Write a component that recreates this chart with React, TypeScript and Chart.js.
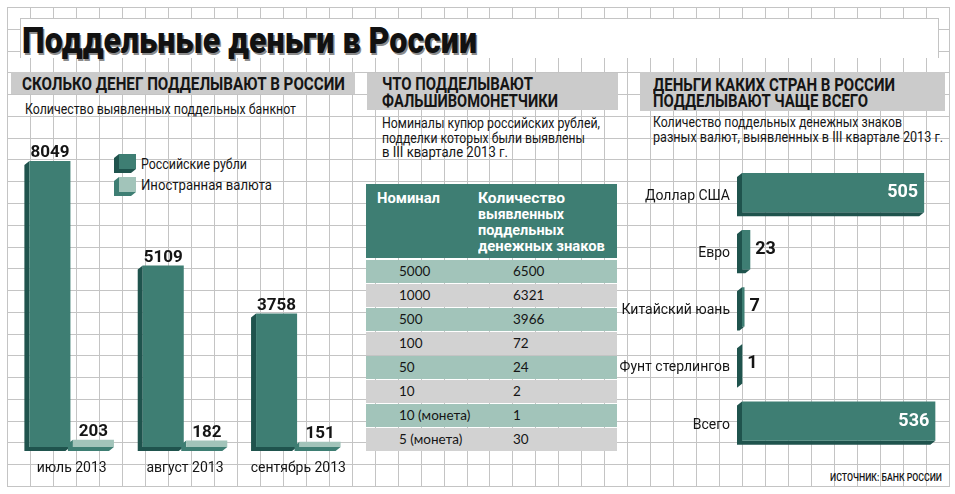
import React, { useEffect, useLayoutEffect, useRef } from 'react';
import { Chart, registerables } from 'chart.js';

Chart.register(...registerables);

// ---------- data ----------
const months = ['июль 2013', 'август 2013', 'сентябрь 2013'];
const rubleCounts = [8049, 5109, 3758];
const foreignCounts = [203, 182, 151];
const seriesNames = ['Российские рубли', 'Иностранная валюта'];

const denominations = ['5000', '1000', '500', '100', '50', '10', '10 (монета)', '5 (монета)'];
const denominationCounts = [6500, 6321, 3966, 72, 24, 2, 1, 30];

const currencies = ['Доллар США', 'Евро', 'Китайский юань', 'Фунт стерлингов', 'Всего'];
const currencyCounts = [505, 23, 7, 1, 536];

// ---------- style ----------
const TEAL = '#3e7e73';
const TEAL_DARK = '#1f534d';
const TEAL_LIGHT = '#a2c4ba';
const ROW_GREY = '#d2d2d2';
const HEAD_GREY = '#cbcbcb';
const GRID = '#c4c4c4';
const INK = '#151515';
const FONT = 'Roboto, "Noto Sans", sans-serif';

const depthPlugin = {
  id: 'depth3d',
  beforeDatasetsDraw(chart: any) {
    const ctx = chart.ctx;
    const dx = 5;
    const dy = 4;
    chart.data.datasets.forEach((ds: any, di: number) => {
      const meta = chart.getDatasetMeta(di);
      meta.data.forEach((bar: any) => {
        let left: number, right: number, top: number, bottom: number;
        if (bar.horizontal) {
          left = Math.min(bar.base, bar.x);
          right = Math.max(bar.base, bar.x);
          top = bar.y - bar.height / 2;
          bottom = bar.y + bar.height / 2;
        } else {
          left = bar.x - bar.width / 2;
          right = bar.x + bar.width / 2;
          top = Math.min(bar.y, bar.base);
          bottom = Math.max(bar.y, bar.base);
        }
        ctx.save();
        ctx.fillStyle = ds.sideColor;
        ctx.beginPath();
        ctx.moveTo(left, top);
        ctx.lineTo(left - dx, top + dy);
        ctx.lineTo(left - dx, bottom + dy);
        ctx.lineTo(right - dx, bottom + dy);
        ctx.lineTo(right, bottom);
        ctx.lineTo(left, bottom);
        ctx.closePath();
        ctx.fill();
        ctx.restore();
      });
    });
  },
};

const valueLabels = {
  id: 'valueLabels',
  afterDatasetsDraw(chart: any) {
    const ctx = chart.ctx;
    const horizontal = chart.options.indexAxis === 'y';
    chart.data.datasets.forEach((ds: any, di: number) => {
      const meta = chart.getDatasetMeta(di);
      meta.data.forEach((bar: any, i: number) => {
        const v = ds.data[i];
        ctx.save();
        ctx.font = `bold ${horizontal ? 18 : 17}px ${FONT}`;
        if (horizontal) {
          ctx.textBaseline = 'middle';
          if (v > 100) {
            ctx.fillStyle = '#ffffff';
            ctx.textAlign = 'right';
            ctx.fillText(String(v), bar.x - 6, bar.y);
          } else {
            ctx.fillStyle = INK;
            ctx.textAlign = 'left';
            ctx.fillText(String(v), bar.x + 5, bar.y);
          }
        } else {
          ctx.fillStyle = INK;
          ctx.textAlign = 'center';
          ctx.textBaseline = 'alphabetic';
          ctx.fillText(String(v), bar.x, bar.y - 3.5);
        }
        ctx.restore();
      });
    });
  },
};

type TProps = {
  x: number;
  base: number;
  size: number;
  w?: number;
  weight?: number;
  color?: string;
  family?: string;
  shadow?: string;
  asc?: number;
  children: React.ReactNode;
};

function T({ x, base, size, w, weight = 400, color = INK, family = FONT, shadow, asc = 0.842, children }: TProps) {
  const ref = useRef<HTMLSpanElement>(null);
  useLayoutEffect(() => {
    const el = ref.current;
    if (!el || !w) return;
    const fit = () => {
      el.style.transform = 'none';
      const nat = el.getBoundingClientRect().width;
      if (nat > 0) el.style.transform = `scaleX(${w / nat})`;
    };
    fit();
    const fonts = (document as any).fonts;
    if (fonts && fonts.ready) fonts.ready.then(fit);
    const t = setTimeout(fit, 60);
    return () => clearTimeout(t);
  }, [w]);
  return (
    <span
      ref={ref}
      style={{
        position: 'absolute',
        left: x,
        top: base - asc * size,
        fontSize: size,
        lineHeight: `${size}px`,
        fontWeight: weight,
        color,
        fontFamily: family,
        whiteSpace: 'nowrap',
        transformOrigin: '0 0',
        textShadow: shadow,
      }}
    >
      {children}
    </span>
  );
}

function Cube({ x, y, w, h, front, side }: { x: number; y: number; w: number; h: number; front: string; side: string }) {
  const dx = 5;
  const dy = 4;
  return (
    <div style={{ position: 'absolute', left: x - dx, top: y, width: w + dx, height: h + dy }}>
      <div
        style={{
          position: 'absolute',
          inset: 0,
          background: side,
          clipPath: `polygon(${dx}px 0, 100% 0, 100% ${h}px, ${w}px 100%, 0 100%, 0 ${dy}px)`,
        }}
      />
      <div style={{ position: 'absolute', left: dx, top: 0, width: w, height: h, background: front }} />
    </div>
  );
}

function Box({ x, y, w, h, bg }: { x: number; y: number; w: number; h: number; bg: string }) {
  return <div style={{ position: 'absolute', left: x, top: y, width: w, height: h, background: bg }} />;
}

export default function App() {
  const leftRef = useRef<HTMLCanvasElement>(null);
  const rightRef = useRef<HTMLCanvasElement>(null);

  useEffect(() => {
    const c1 = new Chart(leftRef.current as HTMLCanvasElement, {
      type: 'bar',
      data: {
        labels: months,
        datasets: [
          {
            label: seriesNames[0],
            data: rubleCounts,
            backgroundColor: TEAL,
            sideColor: TEAL_DARK,
            categoryPercentage: 0.768,
            barPercentage: 0.943,
          } as any,
          {
            label: seriesNames[1],
            data: foreignCounts,
            backgroundColor: TEAL_LIGHT,
            sideColor: TEAL,
            categoryPercentage: 0.768,
            barPercentage: 0.943,
          } as any,
        ],
      },
      options: {
        responsive: false,
        maintainAspectRatio: false,
        animation: false,
        layout: { padding: { left: 7, right: 5, top: 20, bottom: 0 } },
        plugins: { legend: { display: false }, tooltip: { enabled: false } },
        scales: {
          x: {
            grid: { display: false, drawTicks: false },
            border: { display: false },
            ticks: { color: INK, font: { family: FONT, size: 14 }, padding: 13, maxRotation: 0 },
            afterFit: (s: any) => {
              s.height = 39;
            },
          },
          y: { display: false, min: 0, max: 9200 },
        },
      } as any,
      plugins: [depthPlugin, valueLabels],
    });

    const c2 = new Chart(rightRef.current as HTMLCanvasElement, {
      type: 'bar',
      data: {
        labels: currencies,
        datasets: [
          {
            label: 'Количество',
            data: currencyCounts,
            backgroundColor: TEAL,
            sideColor: TEAL_DARK,
            categoryPercentage: 1,
            barPercentage: 0.687,
          } as any,
        ],
      },
      options: {
        indexAxis: 'y',
        responsive: false,
        maintainAspectRatio: false,
        animation: false,
        layout: { padding: { left: 0, right: 6, top: 24, bottom: 15 } },
        plugins: { legend: { display: false }, tooltip: { enabled: false } },
        scales: {
          x: { display: false, min: 0, max: 560 },
          y: {
            grid: { display: false, drawTicks: false },
            border: { display: false },
            ticks: { color: INK, font: { family: FONT, size: 14 }, padding: 12, labelOffset: 4 },
            afterFit: (s: any) => {
              s.width = 122;
            },
          },
        },
      } as any,
      plugins: [depthPlugin, valueLabels],
    });

    return () => {
      c1.destroy();
      c2.destroy();
    };
  }, []);

  const rowTop = (i: number) => 260 + i * 24;

  return (
    <div
      style={{
        position: 'absolute',
        left: 0,
        top: 0,
        width: 955,
        height: 494,
        background: '#ffffff',
        overflow: 'hidden',
        fontFamily: FONT,
      }}
    >
      {/* background grid */}
      <div
        style={{
          position: 'absolute',
          left: 7,
          top: 7,
          width: 943,
          height: 480,
          backgroundImage: `repeating-linear-gradient(to right, ${GRID} 0px, ${GRID} 1px, transparent 1px, transparent 22.976px), repeating-linear-gradient(to bottom, ${GRID} 0px, ${GRID} 1px, transparent 1px, transparent 21.773px)`,
        }}
      />

      {/* title */}
      <div
        style={{
          position: 'absolute',
          left: 20,
          top: 18,
          width: 919,
          height: 40,
          background: '#fff',
          borderTop: `1px solid ${GRID}`,
          borderLeft: `1px solid ${GRID}`,
          borderRight: `1px solid ${GRID}`,
          boxSizing: 'border-box',
        }}
      />
      <T x={22} base={53} size={36} w={455} weight={900} color="#111" shadow="1.5px 1.5px 0 #8c8c8c">
        Поддельные деньги в России
      </T>

      {/* section header boxes */}
      <Box x={11} y={72} w={344} h={22} bg={HEAD_GREY} />
      <Box x={367} y={73} w={251} h={37} bg={HEAD_GREY} />
      <Box x={640} y={72} w={305} h={39} bg={HEAD_GREY} />

      {/* section 1 */}
      <T x={22} base={90} size={18} w={323} weight={700}>СКОЛЬКО ДЕНЕГ ПОДДЕЛЫВАЮТ В РОССИИ</T>
      <T x={25} base={114} size={14} w={271}>Количество выявленных поддельных банкнот</T>

      {/* section 2 */}
      <T x={382} base={90} size={18} w={151} weight={700}>ЧТО ПОДДЕЛЫВАЮТ</T>
      <T x={382} base={107} size={18} w={176} weight={700}>ФАЛЬШИВОМОНЕТЧИКИ</T>
      <T x={382} base={128} size={14} w={218}>Номиналы купюр российских рублей,</T>
      <T x={382} base={143} size={14} w={203}>подделки которых были выявлены</T>
      <T x={382} base={157} size={14} w={126}>в III квартале 2013 г.</T>

      {/* section 3 */}
      <T x={653} base={91} size={18} w={242} weight={700}>ДЕНЬГИ КАКИХ СТРАН В РОССИИ</T>
      <T x={653} base={107} size={18} w={215} weight={700}>ПОДДЕЛЫВАЮТ ЧАЩЕ ВСЕГО</T>
      <T x={653} base={127} size={14} w={249}>Количество поддельных денежных знаков</T>
      <T x={653} base={142} size={14} w={290}>разных валют, выявленных в III квартале 2013 г.</T>

      {/* left chart legend */}
      <Cube x={119} y={154} w={17} h={15} front={TEAL} side={TEAL_DARK} />
      <Cube x={119} y={177} w={17} h={15} front={TEAL_LIGHT} side={TEAL} />
      <T x={141} base={169} size={14} w={106}>{seriesNames[0]}</T>
      <T x={141} base={190} size={14} w={131}>{seriesNames[1]}</T>

      {/* table */}
      <Box x={366} y={184} w={251} h={74} bg={TEAL} />
      <T x={377} base={204} size={15} w={63} weight={700} color="#fff">Номинал</T>
      <T x={478} base={204} size={15} w={87} weight={700} color="#fff">Количество</T>
      <T x={478} base={220} size={15} w={86} weight={700} color="#fff">выявленных</T>
      <T x={478} base={236} size={15} w={86} weight={700} color="#fff">поддельных</T>
      <T x={478} base={252} size={15} w={127} weight={700} color="#fff">денежных знаков</T>
      {denominations.map((d, i) => (
        <div
          key={d}
          style={{
            position: 'absolute',
            left: 366,
            top: rowTop(i),
            width: 251,
            height: 23,
            background: i % 2 === 0 ? TEAL_LIGHT : ROW_GREY,
            fontFamily: 'Lato, "Noto Sans", sans-serif',
            fontSize: 13.5,
            lineHeight: '23px',
            color: INK,
          }}
        >
          <span style={{ position: 'absolute', left: 33, top: 0 }}>{d}</span>
          <span style={{ position: 'absolute', left: 147, top: 0 }}>{denominationCounts[i]}</span>
        </div>
      ))}

      {/* charts */}
      <canvas ref={leftRef} width={352} height={386} style={{ position: 'absolute', left: 8, top: 100, width: 352, height: 386 }} />
      <canvas ref={rightRef} width={330} height={330} style={{ position: 'absolute', left: 620, top: 140, width: 330, height: 330 }} />

      {/* source */}
      <T x={830} base={482} size={10.5} w={112} weight={500}>ИСТОЧНИК: БАНК РОССИИ</T>
    </div>
  );
}
